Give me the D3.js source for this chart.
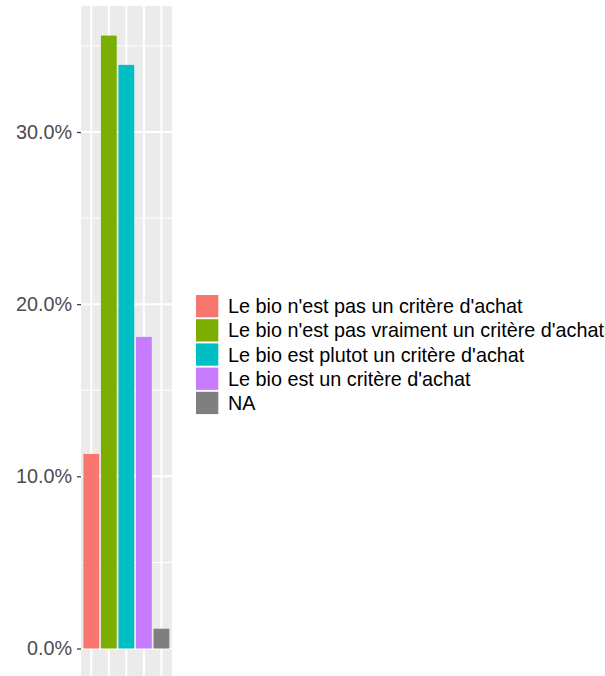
<!DOCTYPE html>
<html>
<head>
<meta charset="utf-8">
<script src="https://cdn.jsdelivr.net/npm/d3@7"></script>
<style>
  body { margin: 0; background: #fff; }
  svg { display: block; font-family: "Liberation Sans", Arial, sans-serif; }
</style>
</head>
<body>
<div class="barchart"></div>
<script>
// data (share of answers, in %)
var categories = [
  "Le bio n'est pas un critère d'achat",
  "Le bio n'est pas vraiment un critère d'achat",
  "Le bio est plutot un critère d'achat",
  "Le bio est un critère d'achat",
  "NA"
];
var values = [11.3, 35.6, 33.9, 18.1, 1.15];
var colors = ["#F8766D", "#7CAE00", "#00BFC4", "#C77CFF", "#7F7F7F"];
var yTicks = [0, 10, 20, 30];
var yMinor = [5, 15, 25, 35];

function drawBars(){
    var w = 605;
    var h = 676;
    var svg = d3.select(".barchart")
                .append("svg")
                .attr("width", w)
                .attr("height", h);

    // panel box
    var px0 = 81, px1 = 172, py0 = 6, py1 = 680;

    var xScale = d3.scaleBand()
                   .domain(categories)
                   .range([82.5, 170.2])
                   .paddingInner(0.1)
                   .paddingOuter(0.05);

    var yScale = d3.scaleLinear()
                   .domain([0, 30])
                   .range([648.5, 132]);

    var color = d3.scaleOrdinal().domain(categories).range(colors);

    svg.append("rect")
       .attr("x", px0).attr("y", py0)
       .attr("width", px1 - px0).attr("height", py1 - py0)
       .attr("fill", "#EBEBEB");

    // grid
    svg.selectAll(".minor")
       .data(yMinor)
       .enter().append("line")
       .attr("x1", px0).attr("x2", px1)
       .attr("y1", d => yScale(d)).attr("y2", d => yScale(d))
       .attr("stroke", "#fff").attr("stroke-width", 1);

    svg.selectAll(".major")
       .data(yTicks)
       .enter().append("line")
       .attr("x1", px0).attr("x2", px1)
       .attr("y1", d => yScale(d)).attr("y2", d => yScale(d))
       .attr("stroke", "#fff").attr("stroke-width", 2);

    svg.selectAll(".vgrid")
       .data(categories)
       .enter().append("line")
       .attr("x1", d => xScale(d) + xScale.bandwidth() / 2)
       .attr("x2", d => xScale(d) + xScale.bandwidth() / 2)
       .attr("y1", py0).attr("y2", py1)
       .attr("stroke", "#fff").attr("stroke-width", 2);

    // bars
    svg.selectAll(".bar")
       .data(categories)
       .enter().append("rect")
       .attr("class", "bar")
       .attr("x", d => xScale(d))
       .attr("width", xScale.bandwidth())
       .attr("y", (d, i) => yScale(values[i]))
       .attr("height", (d, i) => yScale(0) - yScale(values[i]))
       .attr("fill", d => color(d));

    // y axis
    var yAxis = d3.axisLeft(yScale)
                  .tickValues(yTicks)
                  .tickSize(4)
                  .tickPadding(5)
                  .tickFormat(d => d3.format(".1f")(d) + "%");

    svg.append("g")
       .attr("transform", `translate(${px0},0)`)
       .call(yAxis)
       .call(g => {
           g.select(".domain").remove();
           g.selectAll("line").attr("stroke", "#333333").attr("stroke-width", 1.2);
           g.selectAll("text")
            .attr("fill", "#4D4D4D")
            .style("font-size", "19.8px")
            .style("font-family", "'Liberation Sans', Arial, sans-serif");
       });

    // legend
    var legend = svg.append("g")
                    .attr("transform", "translate(196,295)");

    var item = legend.selectAll(".legend")
                     .data(categories)
                     .enter().append("g")
                     .attr("transform", (d, i) => `translate(0,${i * 24.2})`);

    item.append("rect")
        .attr("width", 22.3)
        .attr("height", 22.3)
        .attr("fill", d => color(d));

    item.append("text")
        .attr("x", 32)
        .attr("y", 11.2)
        .attr("dy", "0.35em")
        .style("font-size", "19.8px")
        .attr("fill", "#000")
        .text(d => d);
}

drawBars();
</script>
</body>
</html>
